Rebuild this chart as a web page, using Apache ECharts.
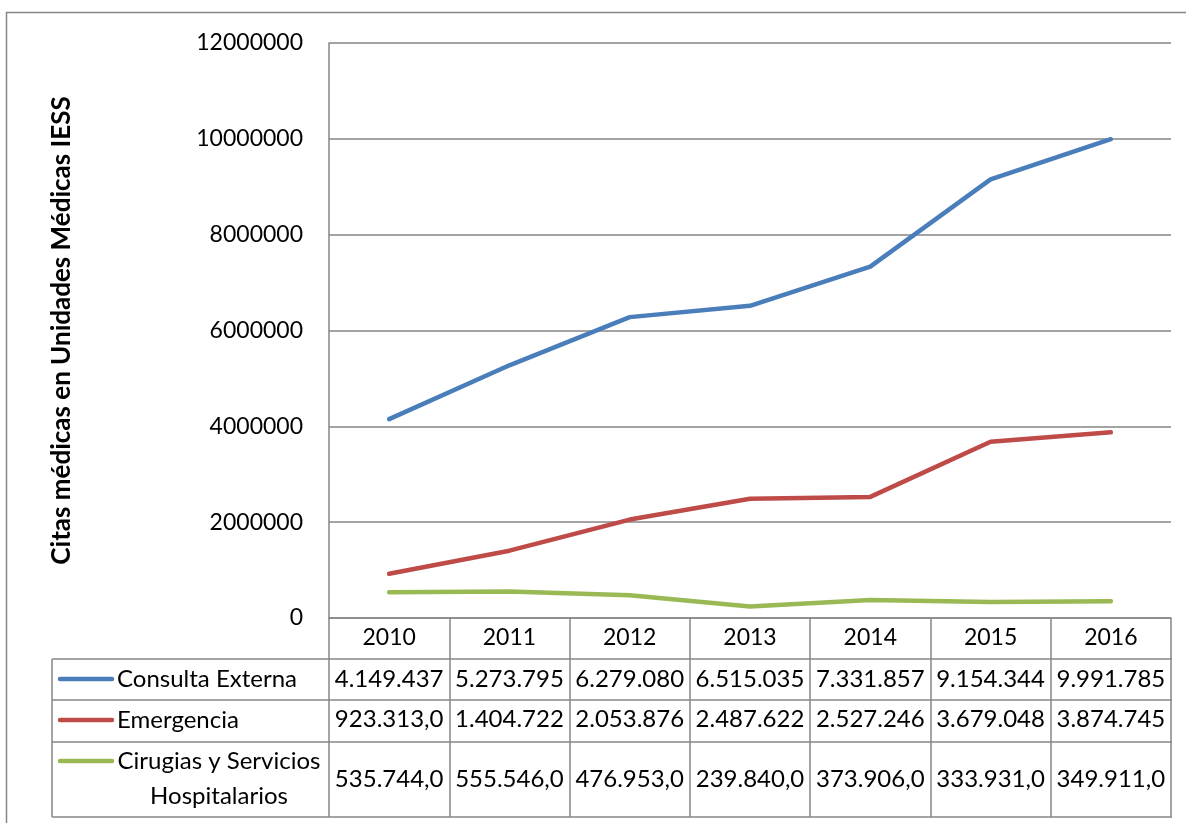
<!DOCTYPE html>
<html>
<head>
<meta charset="utf-8">
<title>Citas médicas IESS</title>
<script src="https://cdn.jsdelivr.net/npm/echarts@6/dist/echarts.min.js"></script>
<style>
  html, body { margin: 0; padding: 0; background: #fff; }
  #chart { width: 1186px; height: 823px; }
</style>
</head>
<body>
<div id="chart"></div>
<script>
// datos
const years = ['2010', '2011', '2012', '2013', '2014', '2015', '2016']
const consultaExterna = [4149437, 5273795, 6279080, 6515035, 7331857, 9154344, 9991785]
const emergencia = [923313, 1404722, 2053876, 2487622, 2527246, 3679048, 3874745]
const cirugias = [535744, 555546, 476953, 239840, 373906, 333931, 349911]
const seriesNames = ['Consulta Externa', 'Emergencia', 'Cirugias y Servicios Hospitalarios']
const seriesColors = ['#4a7ebb', '#be4b48', '#98b954']
const yTitle = 'Citas médicas en Unidades Médicas IESS'

const font = 'Lato, "Noto Sans", sans-serif'
const gridColor = '#868686'

// formato de la tabla (punto de miles, ",0" en los valores menores)
const fmt = (v) => {
    const s = String(Math.round(v)).replace(/\B(?=(\d{3})+(?!\d))/g, '.')
    return v < 1000000 ? s + ',0' : s
}

const rows = [consultaExterna, emergencia, cirugias]
// centro vertical de cada fila de la tabla, medido desde la base del eje (y=618)
const rowCenters = [61, 101, 161]

const chart = echarts.init(document.getElementById('chart'))

const tableAxes = rows.map((row, r) => ({
    type: 'category',
    data: years,
    position: 'bottom',
    axisLine: { show: false },
    axisTick: { show: false },
    splitLine: { show: false },
    axisLabel: {
        interval: 0,
        margin: rowCenters[r],
        verticalAlign: 'middle',
        color: '#000',
        fontFamily: font,
        fontSize: 24,
        formatter: (v, i) => fmt(row[i]),
    },
}))

// bordes de la tabla
const tableLeft = 52, tableRight = 1172
const hLines = [659, 700, 742, 817].map((y) => ({
    type: 'line',
    shape: { x1: tableLeft, y1: y, x2: tableRight, y2: y },
    style: { stroke: gridColor, lineWidth: 1.5 },
}))
const legendRowsY = [679, 720, 761]
const legendItems = []
seriesNames.forEach((name, i) => {
    legendItems.push({
        type: 'line',
        shape: { x1: 60, y1: legendRowsY[i], x2: 112, y2: legendRowsY[i] },
        style: { stroke: seriesColors[i], lineWidth: 4.5, lineCap: 'round' },
    })
})
legendItems.push(
    { type: 'text', x: 117, y: legendRowsY[0], style: { text: seriesNames[0], font: '24px ' + font, fill: '#000', verticalAlign: 'middle' } },
    { type: 'text', x: 117, y: legendRowsY[1], style: { text: seriesNames[1], font: '24px ' + font, fill: '#000', verticalAlign: 'middle' } },
    { type: 'text', x: 219, y: 779, style: { text: 'Cirugias y Servicios\nHospitalarios', font: '24px ' + font, fill: '#000', align: 'center', verticalAlign: 'middle', lineHeight: 35 } },
)

chart.setOption({
    animation: false,
    backgroundColor: '#fff',
    grid: { left: 329, right: 15, top: 43, bottom: 205 },
    xAxis: [
        {
            type: 'category',
            data: years,
            boundaryGap: true,
            axisLine: { show: true, lineStyle: { color: gridColor, width: 1.5 } },
            axisTick: { show: true, interval: 0, length: 199, lineStyle: { color: gridColor, width: 1.5 } },
            axisLabel: { interval: 0, margin: 20, verticalAlign: 'middle', color: '#000', fontFamily: font, fontSize: 23 },
        },
        ...tableAxes,
    ],
    yAxis: {
        type: 'value',
        min: 0,
        max: 12000000,
        interval: 2000000,
        name: yTitle,
        nameLocation: 'middle',
        nameRotate: 90,
        nameGap: 254,
        nameTextStyle: { color: '#000', fontFamily: font, fontWeight: 'bold', fontSize: 26 },
        axisLine: { show: true, lineStyle: { color: gridColor, width: 1.5 } },
        axisTick: { show: false },
        splitLine: { lineStyle: { color: gridColor, width: 1.5 } },
        axisLabel: { margin: 26, color: '#000', fontFamily: font, fontSize: 23, formatter: (v) => String(v) },
    },
    series: rows.map((row, i) => ({
        name: seriesNames[i],
        type: 'line',
        data: row,
        symbol: 'none',
        lineStyle: { color: seriesColors[i], width: 4.5, join: 'round', cap: 'round' },
        itemStyle: { color: seriesColors[i] },
    })),
    graphic: [
        {
            type: 'rect',
            shape: { x: 6.5, y: 12.5, width: 1300, height: 1000 },
            style: { fill: 'none', stroke: gridColor, lineWidth: 1.5 },
            silent: true,
        },
        ...hLines,
        {
            type: 'line',
            shape: { x1: tableLeft, y1: 659, x2: tableLeft, y2: 817 },
            style: { stroke: gridColor, lineWidth: 1.5 },
        },
        ...legendItems,
    ],
})
</script>
</body>
</html>
